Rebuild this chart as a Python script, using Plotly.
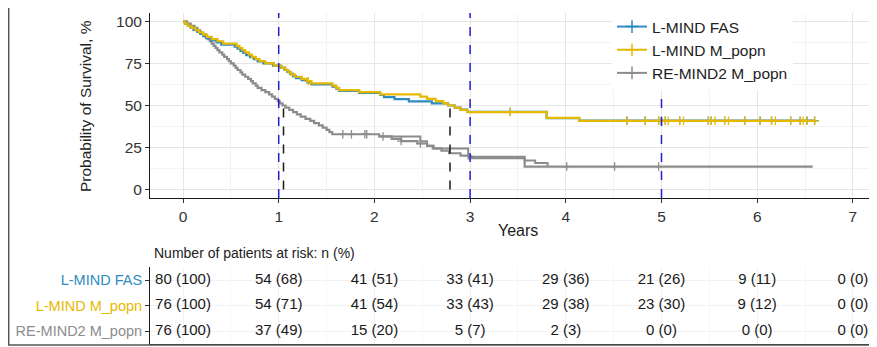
import plotly.graph_objects as go

# ---------------- data ----------------
series_names = ["L-MIND FAS", "L-MIND M_popn", "RE-MIND2 M_popn"]
colors = ["#2E8BC0", "#E7B800", "#8C8C8C"]

fas_t = [0, 0.02, 0.05, 0.08, 0.11, 0.15, 0.18, 0.21, 0.24, 0.29, 0.35, 0.40, 0.54, 0.57, 0.60, 0.63, 0.66, 0.70, 0.74, 0.78,
         0.84, 0.94, 1.02, 1.06, 1.09, 1.12, 1.15, 1.18, 1.24, 1.30, 1.34, 1.56, 1.60, 1.63, 1.84, 2.06, 2.10, 2.21, 2.36, 2.60,
         2.77, 2.84, 2.90, 2.97, 3.80, 4.14, 6.60]
fas_s = [100, 98.75, 97.5, 96.25, 95, 93.75, 92.5, 91.25, 90, 88.75, 87.5, 86.25, 85, 83.75, 82.5, 81.25, 80, 78.75, 77.5, 76.25,
         75, 73.75, 72.5, 71.25, 70, 68.75, 67.5, 66.25, 65, 63.75, 62.5, 61.25, 60, 58.75, 57.5, 56.25, 55, 53.75, 52.5, 51.25,
         50, 48.75, 47.5, 46.25, 42.5, 41, 41]
fas_cens = [3.42, 4.64, 4.83, 4.97, 5.00, 5.04, 5.19, 5.49, 5.52, 5.66, 5.87, 6.03, 6.15, 6.35, 6.45, 6.52, 6.60]

mp_t = [0, 0.02, 0.05, 0.09, 0.13, 0.17, 0.21, 0.25, 0.30, 0.36, 0.42, 0.56, 0.59, 0.62, 0.65, 0.69, 0.72, 0.76, 0.80, 0.86,
        0.95, 1.03, 1.07, 1.10, 1.13, 1.17, 1.24, 1.30, 1.34, 1.56, 1.60, 1.63, 1.84, 2.06, 2.48, 2.55, 2.64, 2.72, 2.77, 2.84,
        2.90, 2.97, 3.80, 4.14, 6.60]
mp_s = [100, 98.7, 97.4, 96.1, 94.7, 93.4, 92.1, 90.8, 89.5, 88.2, 86.8, 85.5, 84.2, 82.9, 81.6, 80.3, 78.9, 77.6, 76.3, 75.0,
        73.7, 72.4, 71.1, 69.7, 68.4, 67.1, 65.8, 64.5, 63.2, 61.8, 60.5, 59.2, 57.9, 56.6, 55.3, 53.9, 52.6, 51.3, 50.0, 48.7,
        47.4, 46.1, 42.6, 40.9, 40.9]
mp_cens = [1.31, 3.42, 4.64, 4.83, 4.97, 5.00, 5.04, 5.07, 5.19, 5.23, 5.49, 5.52, 5.56, 5.66, 5.70, 5.87, 6.03, 6.15, 6.19,
           6.35, 6.45, 6.48, 6.52, 6.60]

rm_t = [0, 0.04, 0.08, 0.12, 0.15, 0.18, 0.21, 0.24, 0.26, 0.28, 0.30, 0.32, 0.34, 0.36, 0.38, 0.41, 0.43, 0.46, 0.48, 0.50,
        0.53, 0.55, 0.57, 0.60, 0.62, 0.65, 0.68, 0.71, 0.73, 0.76, 0.78, 0.82, 0.86, 0.90, 0.93, 0.96, 0.99, 1.01, 1.04, 1.07,
        1.11, 1.15, 1.19, 1.23, 1.28, 1.33, 1.37, 1.42, 1.46, 1.50, 1.53, 1.56, 2.05, 2.18, 2.28, 2.45, 2.55, 2.61, 2.70, 2.78,
        2.90, 3.00, 3.57, 6.58]
rm_s = [100, 98.7, 97.4, 96.1, 94.7, 93.4, 92.1, 90.8, 89.5, 88.2, 86.8, 85.5, 84.2, 82.9, 81.6, 80.3, 78.9, 77.6, 76.3, 75.0,
        73.7, 72.4, 71.1, 69.7, 68.4, 67.1, 65.8, 64.5, 63.2, 61.8, 60.5, 59.2, 57.9, 56.6, 55.3, 53.9, 52.6, 51.3, 50.0, 48.7,
        47.4, 46.1, 44.7, 43.4, 42.1, 40.8, 39.5, 38.2, 36.8, 35.5, 34.2, 32.9, 31.6, 30.2, 28.8, 27.4, 26.0, 24.5, 23.1, 21.6,
        20.2, 18.7, 13.7, 13.7]
rm_cens = [1.67, 1.76, 1.90, 1.92, 2.09, 2.28, 2.48, 2.98, 4.01, 4.51, 4.97]
# second RE-MIND2 trace visible as a doubled grey line
rm2_t = [2.05, 2.48, 2.55, 2.62, 2.98, 3.57, 3.68, 3.81]
rm2_s = [31.6, 28.8, 26.0, 24.5, 19.5, 17.3, 15.8, 13.7]

landmark_years = [1, 3, 5]
median_years = [1.05, 2.79]
median_level = 50

risk_years = [0, 1, 2, 3, 4, 5, 6, 7]
fas_n = [80, 54, 41, 33, 29, 21, 9, 0]
fas_pct = [100, 68, 51, 41, 36, 26, 11, 0]
mp_n = [76, 54, 41, 33, 29, 23, 9, 0]
mp_pct = [100, 71, 54, 43, 38, 30, 12, 0]
rm_n = [76, 37, 15, 5, 2, 0, 0, 0]
rm_pct = [100, 49, 20, 7, 3, 0, 0, 0]

y_ticks = [0, 25, 50, 75, 100]

# ---------------- helpers ----------------
# the page body has an 8px margin: figure pixel = reference pixel - 8
OFF = 8
W, H = 877 - OFF, 347 - OFF
def px(p):
    return (p - OFF) / W
def py(p):
    return 1 - (p - OFF) / H

def level_at(ts, ss, t):
    v = ss[0]
    for ti, si in zip(ts, ss):
        if ti <= t:
            v = si
    return v

FONT = "Liberation Sans, Arial, sans-serif"
fig = go.Figure()

curves = [
    (rm_t, rm_s, rm_cens, 2),
    (fas_t, fas_s, fas_cens, 0),
    (mp_t, mp_s, mp_cens, 1),
]
fig.add_trace(go.Scatter(x=rm2_t, y=rm2_s, mode="lines", line=dict(color=colors[2], width=2, shape="hv"),
                         showlegend=False, hoverinfo="skip"))
for ts, ss, cens, k in curves:
    fig.add_trace(go.Scatter(x=ts, y=ss, mode="lines", line=dict(color=colors[k], width=2.2, shape="hv"),
                             showlegend=False, name=series_names[k]))
    fig.add_trace(go.Scatter(x=cens, y=[level_at(ts, ss, c) for c in cens], mode="markers",
                             marker=dict(symbol="cross-thin", size=6, line=dict(color=colors[k], width=1.3)),
                             showlegend=False, hoverinfo="skip"))

# legend entries
for k, nm in enumerate(series_names):
    fig.add_trace(go.Scatter(x=[None], y=[None], mode="lines+markers", name=nm, legendgroup=nm,
                             line=dict(color=colors[k], width=2),
                             marker=dict(symbol="cross-thin", size=9, line=dict(color=colors[k], width=1.5))))

# risk table
for k, (n, p) in enumerate([(fas_n, fas_pct), (mp_n, mp_pct), (rm_n, rm_pct)]):
    fig.add_trace(go.Scatter(x=risk_years, y=[3 - k] * len(risk_years), mode="text",
                             text=[f"{a} ({b})" for a, b in zip(n, p)],
                             textfont=dict(size=15, color="#1A1A1A", family=FONT),
                             xaxis="x2", yaxis="y2", showlegend=False, hoverinfo="skip"))

shapes = []
for xv in landmark_years:
    shapes.append(dict(type="line", xref="x", yref="y domain", x0=xv, x1=xv, y0=0, y1=1,
                       line=dict(color="#2020D0", width=1.5, dash="dash"), layer="above"))
for xv in median_years:
    shapes.append(dict(type="line", xref="x", yref="y", x0=xv, x1=xv, y0=0, y1=median_level,
                       line=dict(color="#1A1A1A", width=1.5, dash="dash"), layer="above"))
# outer frame
shapes.append(dict(type="rect", xref="paper", yref="paper", x0=px(8.7), x1=px(900), y0=py(345), y1=py(3.7),
                   line=dict(color="#555555", width=1.5), layer="above"))

xr = [-0.345, 7.252]
axis_common = dict(showline=True, linecolor="#1A1A1A", linewidth=1, zeroline=False)

fig.update_layout(
    width=W, height=H, margin=dict(l=0, r=0, t=0, b=0),
    paper_bgcolor="white", plot_bgcolor="white",
    font=dict(family=FONT, size=15, color="#333333"),
    xaxis=dict(domain=[px(150), 1], range=xr, tickvals=risk_years, ticks="outside", ticklen=4, tickcolor="#333333",
               tickfont=dict(size=15.5, color="#333333"), gridcolor="#E6E6E6", gridwidth=1,
               minor=dict(dtick=0.5, tick0=0, showgrid=True, gridcolor="#F3F3F3"), **axis_common),
    yaxis=dict(domain=[py(198), py(13)], range=[-5, 105], tickvals=y_ticks, ticks="outside", ticklen=4,
               tickcolor="#333333", tickfont=dict(size=15.5, color="#333333"), gridcolor="#E6E6E6",
               minor=dict(dtick=12.5, tick0=0, showgrid=True, gridcolor="#F3F3F3"), **axis_common),
    xaxis2=dict(domain=[px(150), 1], range=xr, anchor="y2", showticklabels=False, ticks="", tickvals=risk_years,
                gridcolor="#F2F2F2", minor=dict(dtick=0.5, tick0=0, showgrid=True, gridcolor="#F7F7F7"), **axis_common),
    yaxis2=dict(domain=[py(344), py(267)], range=[0.49, 3.51], anchor="x2", tickvals=[3, 2, 1],
                ticktext=[f"<span style='color:{colors[0]}'>{series_names[0]}</span>",
                          f"<span style='color:{colors[1]}'>{series_names[1]}</span>",
                          f"<span style='color:{colors[2]}'>{series_names[2]}</span>"],
                ticks="outside", ticklen=4, tickcolor="#333333", tickfont=dict(size=14.5), gridcolor="#F2F2F2",
                **axis_common),
    legend=dict(x=px(612), y=py(10), xanchor="left", yanchor="top", bgcolor="white", borderwidth=0,
                font=dict(size=15.5, color="#222222", family=FONT), itemwidth=30,
                traceorder="grouped", tracegroupgap=0),
    shapes=shapes,
    annotations=[
        dict(text="Probability of Survival, %", xref="paper", yref="paper", x=px(85), y=py(106), textangle=-90,
             showarrow=False, font=dict(size=15.5, color="#222222"), xanchor="center", yanchor="middle"),
        dict(text="Years", xref="x", yref="paper", x=3.5, y=py(230), showarrow=False,
             font=dict(size=16, color="#222222"), xanchor="center", yanchor="middle"),
        dict(text="Number of patients at risk: n (%)", xref="paper", yref="paper", x=px(152), y=py(253),
             showarrow=False, font=dict(size=14, color="#222222"), xanchor="left", yanchor="middle"),
    ],
)

fig.write_html("out.html")
